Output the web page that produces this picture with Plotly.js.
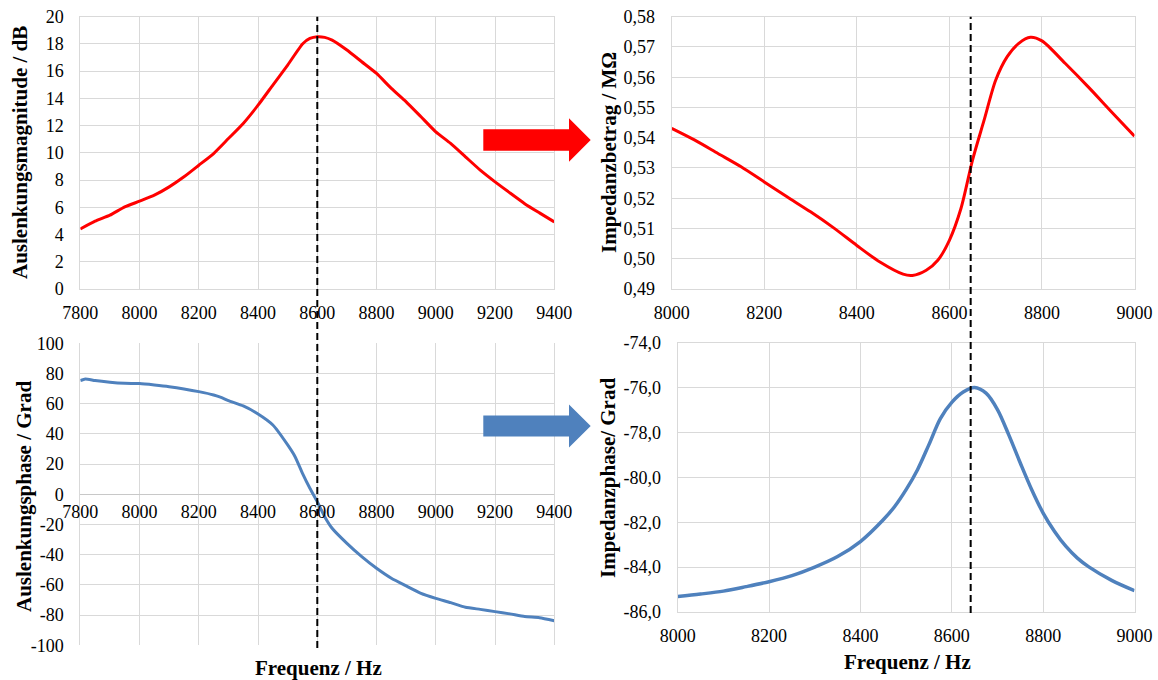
<!DOCTYPE html>
<html><head><meta charset="utf-8">
<script src="https://cdn.plot.ly/plotly-3.0.1.min.js"></script>
<style>html,body{margin:0;padding:0;background:#fff}#chart{width:1158px;height:680px}</style>
</head><body><div id="chart"></div>
<script>
// ---- data ----
const magFreq = [7800,7850,7900,7950,8000,8050,8100,8150,8200,8250,8300,8350,8400,8450,8500,8550,8575,8600,8625,8650,8700,8750,8800,8850,8900,8950,9000,9050,9100,9150,9200,9250,9300,9350,9400];
const magDb = [4.41,4.98,5.42,6.03,6.45,6.89,7.5,8.24,9.09,9.95,11.05,12.16,13.5,14.98,16.45,18.0,18.4,18.53,18.48,18.28,17.55,16.69,15.83,14.73,13.75,12.65,11.54,10.69,9.71,8.73,7.87,7.06,6.27,5.59,4.93];

const phaseFreq = [7800,7817,7850,7900,7950,8000,8050,8100,8150,8200,8250,8275,8300,8350,8400,8450,8500,8525,8550,8575,8600,8625,8650,8700,8750,8800,8850,8900,8950,9000,9050,9100,9150,9200,9250,9300,9350,9400];
const phaseDeg = [75.3,76.4,75.3,74.2,73.5,73.3,72.4,71.3,69.8,68.0,65.8,64.2,62.0,58.5,53.2,45.9,32.7,24.9,13.9,4.0,-4.9,-14.8,-22.5,-32.5,-41.3,-49.0,-55.6,-60.7,-65.6,-68.9,-71.7,-74.8,-76.2,-77.7,-79.2,-81.0,-81.7,-83.7];

const impFreq = [8000,8050,8100,8150,8200,8250,8300,8350,8400,8450,8500,8520,8550,8575,8600,8625,8650,8675,8700,8725,8750,8775,8800,8850,8900,8950,9000];
const impMag = [0.5431,0.5392,0.5348,0.5304,0.5254,0.5204,0.5155,0.5102,0.5044,0.4989,0.4949,0.4945,0.4962,0.4995,0.5061,0.5166,0.5326,0.5458,0.5590,0.5668,0.5712,0.5732,0.5720,0.5646,0.5568,0.5486,0.5405];

const impPhFreq = [8000,8050,8100,8150,8200,8250,8300,8350,8400,8450,8475,8500,8525,8550,8575,8600,8625,8650,8675,8700,8725,8750,8775,8800,8825,8850,8875,8900,8950,9000];
const impPhase = [-85.31,-85.2,-85.07,-84.87,-84.65,-84.38,-84.0,-83.53,-82.86,-81.89,-81.3,-80.55,-79.66,-78.54,-77.38,-76.66,-76.2,-76.0,-76.25,-76.98,-78.12,-79.36,-80.55,-81.59,-82.41,-83.08,-83.6,-83.99,-84.59,-85.05];

const resonanceDisp = 8600;   // dashed marker, left column
const resonanceImp = 8646;    // dashed marker, right column

// ---- tick labels ----
const magXTicks = [7800,8000,8200,8400,8600,8800,9000,9200,9400];
const magXLabels = ['7800','8000','8200','8400','8600','8800','9000','9200','9400'];
const magYTicks = [0,2,4,6,8,10,12,14,16,18,20];
const magYLabels = ['0','2','4','6','8','10','12','14','16','18','20'];
const phYTicks = [-100,-80,-60,-40,-20,0,20,40,60,80,100];
const phYLabels = ['-100','-80','-60','-40','-20','0','20','40','60','80','100'];
const impXTicks = [8000,8200,8400,8600,8800,9000];
const impXLabels = ['8000','8200','8400','8600','8800','9000'];
const impYTicks = [0.49,0.50,0.51,0.52,0.53,0.54,0.55,0.56,0.57,0.58];
const impYLabels = ['0,49','0,50','0,51','0,52','0,53','0,54','0,55','0,56','0,57','0,58'];
const impPhYTicks = [-86,-84,-82,-80,-78,-76,-74];
const impPhYLabels = ['-86,0','-84,0','-82,0','-80,0','-78,0','-76,0','-74,0'];

// ---- layout helpers ----
const W = 1158, H = 680;
const px = x => x / W;
const py = y => 1 - y / H;
const FONT = '"Liberation Serif", "Times New Roman", serif';
const RED = '#ff0000', BLUE = '#4f81bd', GRID = '#d9d9d9';

function ax(extra) {
  return Object.assign({
    showgrid: true, gridcolor: GRID, gridwidth: 1,
    showline: true, linecolor: GRID, linewidth: 1, mirror: true,
    ticks: '', zeroline: false, tickmode: 'array',
    tickfont: {family: FONT, size: 18, color: '#000'},
    fixedrange: true
  }, extra);
}

const domTLx = [px(80.3), px(554.3)], domTy = [py(289), py(16.7)];
const domTRx = [px(671.7), px(1134.5)];
const domBLy = [py(645.3), py(343.3)];
const domBRx = [px(677.7), px(1134.5)], domBRy = [py(612), py(342.7)];

const traces = [
  {x: magFreq, y: magDb, xaxis: 'x', yaxis: 'y', mode: 'lines', line: {color: RED, width: 3, shape: 'spline', smoothing: 0.5}, hoverinfo: 'skip'},
  {x: impFreq, y: impMag, xaxis: 'x2', yaxis: 'y2', mode: 'lines', line: {color: RED, width: 3, shape: 'spline', smoothing: 0.8}, hoverinfo: 'skip'},
  {x: phaseFreq, y: phaseDeg, xaxis: 'x3', yaxis: 'y3', mode: 'lines', line: {color: BLUE, width: 3, shape: 'spline', smoothing: 0.5}, hoverinfo: 'skip'},
  {x: impPhFreq, y: impPhase, xaxis: 'x4', yaxis: 'y4', mode: 'lines', line: {color: BLUE, width: 3.5, shape: 'spline', smoothing: 0.9}, hoverinfo: 'skip'}
];

const titleFont = {family: FONT, size: 21, color: '#000'};
function ytitle(text, x, y) {
  return {text: '<b>' + text + '</b>', x: x, y: y, xref: 'paper', yref: 'paper', textangle: -90,
          showarrow: false, font: titleFont, xanchor: 'center', yanchor: 'middle'};
}
function xtitle(text, x, y) {
  return {text: '<b>' + text + '</b>', x: x, y: y, xref: 'paper', yref: 'paper',
          showarrow: false, font: titleFont, xanchor: 'center', yanchor: 'middle'};
}

function arrowPath(x0, xh, xt, cy, bh, hh) {
  const p = (x, y) => px(x) + ',' + py(y);
  return 'M' + p(x0, cy - bh) + ' L' + p(xh, cy - bh) + ' L' + p(xh, cy - hh) + ' L' + p(xt, cy) +
         ' L' + p(xh, cy + hh) + ' L' + p(xh, cy + bh) + ' L' + p(x0, cy + bh) + ' Z';
}

const layout = {
  width: W, height: H, margin: {l: 0, r: 0, t: 0, b: 0},
  font: {family: FONT, size: 18, color: '#000'},
  paper_bgcolor: '#fff', plot_bgcolor: '#fff', showlegend: false,
  xaxis: ax({domain: domTLx, anchor: 'y', range: [7800, 9400], tickvals: magXTicks, ticktext: magXLabels, ticklabelstandoff: 7}),
  yaxis: ax({domain: domTy, anchor: 'x', range: [0, 20], tickvals: magYTicks, ticktext: magYLabels, ticklabelstandoff: 12}),
  xaxis2: ax({domain: domTRx, anchor: 'y2', range: [8000, 9000], tickvals: impXTicks, ticktext: impXLabels, ticklabelstandoff: 7}),
  yaxis2: ax({domain: domTy, anchor: 'x2', range: [0.49, 0.58], tickvals: impYTicks, ticktext: impYLabels, ticklabelstandoff: 12}),
  xaxis3: ax({domain: domTLx, anchor: 'free', position: (domBLy[0] + domBLy[1]) / 2, showline: false, mirror: false,
              range: [7800, 9400], tickvals: magXTicks, ticktext: magXLabels, ticklabelstandoff: 5}),
  yaxis3: ax({domain: domBLy, anchor: 'x3', range: [-100, 100], tickvals: phYTicks, ticktext: phYLabels, ticklabelstandoff: 12,
              zeroline: true, zerolinecolor: '#c8c8c8', zerolinewidth: 1.5}),
  xaxis4: ax({domain: domBRx, anchor: 'y4', range: [8000, 9000], tickvals: impXTicks, ticktext: impXLabels, ticklabelstandoff: 7}),
  yaxis4: ax({domain: domBRy, anchor: 'x4', range: [-86, -74], tickvals: impPhYTicks, ticktext: impPhYLabels, ticklabelstandoff: 12}),
  shapes: [
    {type: 'line', xref: 'x', yref: 'paper', x0: resonanceDisp, x1: resonanceDisp, y0: py(648), y1: py(16.7),
     line: {color: '#000', width: 2, dash: '7px,4px'}},
    {type: 'line', xref: 'x2', yref: 'paper', x0: resonanceImp, x1: resonanceImp, y0: py(613), y1: py(16.7),
     line: {color: '#000', width: 2, dash: '7px,4px'}},
    {type: 'path', xref: 'paper', yref: 'paper', path: arrowPath(483.3, 569, 590.7, 140, 10.7, 21.7), fillcolor: RED, line: {width: 0}},
    {type: 'path', xref: 'paper', yref: 'paper', path: arrowPath(483.3, 569, 590.7, 426, 10.5, 21.5), fillcolor: BLUE, line: {width: 0}}
  ],
  annotations: [
    ytitle('Auslenkungsmagnitude / dB', px(20), py(153)),
    ytitle('Impedanzbetrag / MΩ', px(609), py(153)),
    ytitle('Auslenkungsphase / Grad', px(24), py(497)),
    ytitle('Impedanzphase/ Grad', px(608), py(478)),
    xtitle('Frequenz / Hz', px(318.5), py(668)),
    xtitle('Frequenz / Hz', px(907), py(662))
  ]
};

Plotly.newPlot('chart', traces, layout, {displayModeBar: false, staticPlot: true});
</script>
</body></html>
